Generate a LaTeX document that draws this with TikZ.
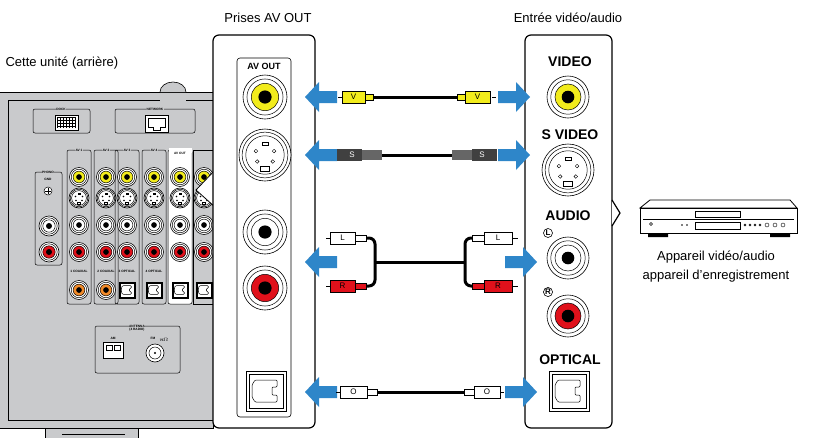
\documentclass[tikz,border=0pt]{standalone}
\usepackage{fontspec}
\setmainfont{Liberation Sans}
\begin{document}
\definecolor{ablue}{HTML}{2E86C9}
\definecolor{rgray}{HTML}{C9CACC}
\definecolor{jyel}{HTML}{F2EC1C}
\definecolor{jred}{HTML}{E0111B}
\definecolor{jora}{HTML}{F08A2A}
\newcommand\rcajack[4]{% x,y,colour,r
 \filldraw[fill=white,draw=black,line width=0.6pt] (#1,#2) circle ({#4*1pt});
 \draw[line width=0.5pt] (#1,#2) circle ({0.82*#4*1pt});
 \filldraw[fill=#3,draw=black,line width=0.5pt] (#1,#2) circle ({0.62*#4*1pt});
 \fill[black] (#1,#2) circle ({0.3*#4*1pt});}
\newcommand\svjack[3]{%
 \filldraw[fill=white,draw=black,line width=0.6pt] (#1,#2) circle ({#3*1pt});
 \draw[line width=0.5pt] (#1,#2) circle ({0.88*#3*1pt});
 \draw[line width=0.5pt] (#1,#2) circle ({0.74*#3*1pt});
 \foreach \a/\b in {-0.35/-0.15,0.35/-0.15,-0.3/0.25,0.3/0.25}{\draw[line width=0.4pt] ({#1+\a*#3},{#2+\b*#3}) circle ({0.07*#3*1pt});}
 \draw[line width=0.5pt] ({#1-0.17*#3},{#2+0.45*#3}) rectangle ({#1+0.17*#3},{#2+0.62*#3});
 \draw[line width=0.5pt] ({#1-0.12*#3},{#2-0.5*#3}) rectangle ({#1+0.12*#3},{#2-0.38*#3});}
\newcommand\optjack[3]{% x,y,half size
 \filldraw[fill=white,draw=black,line width=0.6pt] ({#1-#3},{#2-#3}) rectangle ({#1+#3},{#2+#3});
 \draw[line width=0.5pt] ({#1-0.85*#3},{#2-0.85*#3}) rectangle ({#1+0.85*#3},{#2+0.85*#3});
 \draw[line width=0.5pt,rounded corners=1pt] ({#1-0.55*#3},{#2-0.55*#3}) -- ({#1+0.55*#3},{#2-0.55*#3}) -- ({#1+0.55*#3},{#2-0.2*#3}) -- ({#1+0.3*#3},{#2-0.2*#3}) -- ({#1+0.3*#3},{#2+0.2*#3}) -- ({#1+0.55*#3},{#2+0.2*#3}) -- ({#1+0.55*#3},{#2+0.55*#3}) -- ({#1-0.55*#3},{#2+0.55*#3}) -- ({#1-0.7*#3},{#2+0.3*#3}) -- ({#1-0.7*#3},{#2-0.3*#3}) -- cycle;}
\newcommand\larrow[2]{%
 \fill[ablue] ({#1+32},{#2-6}) -- ({#1+14},{#2-6}) -- ({#1+14},{#2-15}) -- (#1,#2) -- ({#1+14},{#2+15}) -- ({#1+14},{#2+6}) -- ({#1+32},{#2+6}) -- cycle;}
\newcommand\rarrow[2]{%
 \fill[ablue] ({#1-32},{#2-6}) -- ({#1-14},{#2-6}) -- ({#1-14},{#2-15}) -- (#1,#2) -- ({#1-14},{#2+15}) -- ({#1-14},{#2+6}) -- ({#1-32},{#2+6}) -- cycle;}
\newcommand\plug[5]{%
 \filldraw[fill=#4,draw=black,line width=0.6pt] (#1,{#3-6}) rectangle (#2,{#3+6});
 \node[font=\fontsize{8}{8}\selectfont,text=black] at ({(#1+#2)/2},#3) {#5};}
\begin{tikzpicture}[x=1pt,y=-1pt,
  lbl/.style={font=\fontsize{13}{15}\selectfont},
  plbl/.style={font=\fontsize{14}{15}\bfseries},
  tiny/.style={font=\fontsize{3.2}{3.5}\selectfont\bfseries},
  cable/.style={line width=3pt,black}]
\useasboundingbox (0,0) rectangle (823,437);
% ---------------- receiver -----------------
\filldraw[fill=rgray,draw=black,line width=1pt] (-2,92) -- (213,92) -- (213,428) -- (-2,428) -- cycle;
\draw[line width=0.6pt] (8,100) -- (8,420) -- (213,420);
\draw[line width=0.6pt] (8,100) -- (160,100);
\draw[line width=0.6pt] (186,100) -- (213,100);
\draw[line width=0.6pt,fill=rgray] (160,92) arc (180:360:13 and 10);
\filldraw[fill=rgray,draw=black,line width=0.8pt] (45,428) rectangle (138,440);
\draw[line width=0.6pt] (62,434) -- (125,434);
% dock / network
\draw[line width=0.5pt,rounded corners=2pt] (33,109) rectangle (90,133);
\node[tiny,fill=rgray,inner sep=0.5pt] (dock) at (61,109) {DOCK};
\filldraw[fill=white,draw=black,line width=0.5pt] (55,115) rectangle (78,130);
\draw[line width=0.3pt,step=3pt] (57,117) grid (76,128);
\draw[line width=0.5pt,rounded corners=2pt] (115,109) rectangle (195,133);
\node[tiny,fill=rgray,inner sep=0.5pt] (net) at (155,109) {NETWORK};
\filldraw[fill=white,draw=black,line width=0.5pt] (145,115) rectangle (168,132);
\draw[line width=0.5pt] (148,118) -- (165,118) -- (165,127) -- (160,127) -- (160,130) -- (153,130) -- (153,127) -- (148,127) -- cycle;
% phono
\draw[line width=0.5pt,rounded corners=2pt] (35,172) rectangle (62,265);
\node[tiny,fill=rgray,inner sep=0.5pt] (phono) at (48,172) {PHONO};
\node[tiny] (gnd) at (48,179) {GND};
\draw[line width=0.5pt,fill=white] (48,191) circle (4pt);
\draw[line width=0.5pt] (45,191) -- (51,191) (48,188) -- (48,194);
\rcajack{49}{226}{white}{10}
\rcajack{49}{252}{jred}{10}
% columns
\foreach \cx/\nm [count=\i] in {79/AV 1,106/AV 2,127/AV 3,154/AV 4,180/AV OUT}{
  \ifnum\i=5 \filldraw[fill=white,draw=black,line width=0.5pt,rounded corners=2pt] ({\cx-12},150) rectangle ({\cx+12},304);
  \else \draw[line width=0.5pt,rounded corners=2pt] ({\cx-12},150) rectangle ({\cx+12},304); \fi
  \node[tiny,fill=rgray,inner sep=0.3pt] at (\cx,150) {\nm};
  \rcajack{\cx}{177}{jyel}{9.5}
  \svjack{\cx}{198}{10}
  \rcajack{\cx}{225}{white}{9.5}
  \rcajack{\cx}{252}{jred}{9.5}
}
\fill[white] (168.5,148) rectangle (191.5,153);
\node[tiny] at (180,153) {AV OUT};
\draw[line width=0.5pt] (193,150) -- (213,150) (193,150) -- (193,304) -- (213,304);
\rcajack{204}{177}{jyel}{9.5}
\svjack{204}{198}{10}
\rcajack{204}{225}{white}{9.5}
\rcajack{204}{252}{jred}{9.5}
\rcajack{79}{290}{jora}{9.5}
\rcajack{106}{290}{jora}{9.5}
\optjack{127}{290}{8}
\optjack{154}{290}{8}
\optjack{180}{290}{8}
\optjack{204}{290}{8}
\foreach \cx/\t in {79/1 COAXIAL,106/2 COAXIAL,127/3 OPTICAL,154/4 OPTICAL}{\node[tiny] at (\cx,271) {\t};}
% antenna
\draw[line width=0.5pt,rounded corners=2pt] (95,326) rectangle (180,373);
\node[tiny,fill=rgray,inner sep=0.5pt,align=center] (ant) at (137,328) {ANTENNA\\(4 RADIO)};
\node[tiny] at (113,338) {AM};
\filldraw[fill=white,draw=black,line width=0.5pt] (103,342) rectangle (123,358);
\draw[line width=0.5pt] (106,345) rectangle (112,350) (114,345) rectangle (120,350);
\node[tiny] at (153,338) {FM};
\node[tiny] at (164,340) {75\(\Omega\)};
\filldraw[fill=white,draw=black,line width=0.6pt] (155,353) circle (9pt);
\draw[line width=0.5pt] (155,353) circle (6pt);
\fill (155,353) circle (1.2pt);
% zoom wedge
\filldraw[fill=white,draw=black,line width=0.8pt] (215,170) -- (196,190) -- (215,207);
% ---------------- left panel -----------------
\filldraw[fill=white,draw=black,line width=1.2pt,rounded corners=6pt] (213,35) rectangle (315,428);
\draw[line width=0.6pt,rounded corners=3pt] (237,58) rectangle (291,417);
\node[font=\fontsize{9}{9}\bfseries] (avout) at (264,66) {AV OUT};
\rcajack{265}{97}{jyel}{22}
\svjack{265}{155}{26}
\rcajack{265}{232}{white}{22}
\rcajack{265}{288}{jred}{22}
\optjack{266}{391}{20}
% ---------------- right panel -----------------
\filldraw[fill=white,draw=black,line width=1.2pt,rounded corners=6pt] (525,35) rectangle (612,428);
\draw[line width=1.2pt,fill=white] (612,200) -- (620,213) -- (612,226);
\node[plbl] (video) at (570,62) {VIDEO};
\rcajack{568}{97}{jyel}{21}
\node[plbl] (svideo) at (570,135) {S VIDEO};
\svjack{568}{170}{26}
\node[plbl] (audio) at (568,216) {AUDIO};
\node[font=\fontsize{8}{8}\bfseries,circle,draw,line width=0.6pt,inner sep=0.6pt] (lmark) at (548,233) {L};
\rcajack{568}{258}{white}{21}
\node[font=\fontsize{8}{8}\bfseries,circle,draw,line width=0.6pt,inner sep=0.4pt] (rmark) at (548,292) {R};
\rcajack{568}{316}{jred}{21}
\node[plbl] (optical) at (570,360) {OPTICAL};
\optjack{569}{391}{20}
% ---------------- arrows and cables -----------------
\larrow{305}{97}\rarrow{530}{97}
\larrow{305}{155}\rarrow{530}{155}
\larrow{305}{262}\rarrow{537}{262}
\larrow{305}{392}\rarrow{537}{392}
% video
\draw[cable] (372,97) -- (458,97);
\draw[line width=1pt] (338,97) -- (342,97) (492,97) -- (496,97);
\plug{342}{365}{97}{jyel}{V}\filldraw[fill=jyel,draw=black,line width=0.5pt] (365,94) rectangle (373,100);
\plug{465}{490}{97}{jyel}{V}\filldraw[fill=jyel,draw=black,line width=0.5pt] (457,94) rectangle (465,100);
% s video
\draw[cable] (382,155) -- (452,155);
\fill[black!75] (337,149) rectangle (362,161);\node[font=\fontsize{8}{8}\selectfont,text=white] at (352,155) {S};
\fill[black!60] (362,150) rectangle (382,160);
\fill[black!75] (472,149) rectangle (497,161);\node[font=\fontsize{8}{8}\selectfont,text=white] at (482,155) {S};
\fill[black!60] (452,150) rectangle (472,160);
% audio
\draw[cable,rounded corners=6pt] (365,238) -- (375,238) -- (375,286) -- (365,286);
\draw[cable] (375,262) -- (465,262);
\draw[cable,rounded corners=6pt] (472,238) -- (465,238) -- (465,286) -- (472,286);
\draw[line width=1pt] (326,238) -- (330,238) (326,286) -- (330,286) (512,238) -- (518,238) (512,286) -- (518,286);
\plug{330}{355}{238}{white}{L}\filldraw[fill=white,draw=black,line width=0.5pt] (355,235) rectangle (366,241);
\plug{330}{355}{286}{jred}{R}\filldraw[fill=jred,draw=black,line width=0.5pt] (355,283) rectangle (366,289);
\plug{484}{512}{238}{white}{L}\filldraw[fill=white,draw=black,line width=0.5pt] (472,235) rectangle (484,241);
\plug{484}{512}{286}{jred}{R}\filldraw[fill=jred,draw=black,line width=0.5pt] (472,283) rectangle (484,289);
% optical
\draw[cable] (376,392) -- (464,392);
\draw[line width=1pt] (336,392) -- (340,392) (500,392) -- (504,392);
\plug{340}{367}{392}{white}{O}\filldraw[fill=white,draw=black,line width=0.5pt] (367,389) rectangle (377,395);
\plug{474}{500}{392}{white}{O}\filldraw[fill=white,draw=black,line width=0.5pt] (464,389) rectangle (474,395);
% ---------------- device -----------------
\filldraw[fill=white,draw=black,line width=0.8pt] (640,208) -- (650,200) -- (790,200) -- (797,208) -- cycle;
\filldraw[fill=white,draw=black,line width=0.8pt] (640,208) rectangle (797,233);
\draw[line width=0.5pt] (643,219) -- (794,219);
\draw[line width=0.5pt] (695,211) rectangle (740,217);
\draw[line width=0.5pt] (695,222) rectangle (740,229);
\draw[line width=0.5pt] (651,224) circle (1.5pt);
\fill (682,225) circle (0.8pt) (687,225) circle (0.8pt);
\foreach \xx in {745,750,755,760}{\draw[line width=0.4pt] (\xx,225) circle (1pt);}
\foreach \xx in {767,775,783}{\draw[line width=0.4pt] (\xx,225) circle (2pt);}
\fill (648,233) rectangle (668,237) (770,233) rectangle (790,237);
\node[lbl] (dev1) at (716,257) {Appareil vidéo/audio};
\node[lbl] (dev2) at (716,276) {appareil d’enregistrement};
% titles
\node[lbl] (t1) at (268,18) {Prises AV OUT};
\node[lbl] (t2) at (568,18) {Entrée vidéo/audio};
\node[lbl,anchor=west] (t3) at (2,63) {Cette unité (arrière)};
\end{tikzpicture}
\end{document}
